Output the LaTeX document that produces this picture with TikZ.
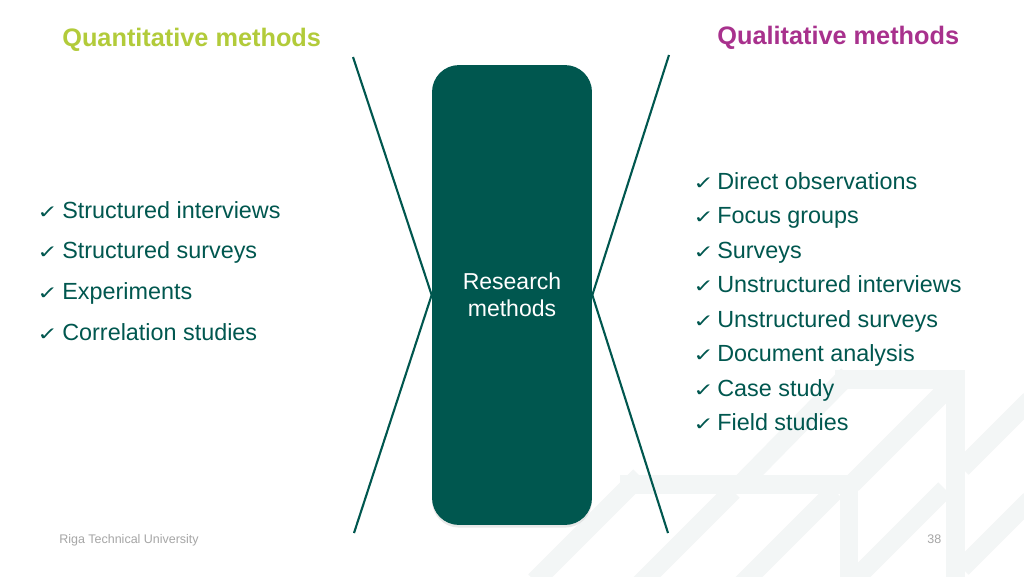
\documentclass[tikz,border=0pt]{standalone}
\usepackage{fontspec}
\setmainfont{Liberation Sans}
\newfontfamily\symfont{DejaVu Sans}
\usetikzlibrary{shadows}
\definecolor{rtuteal}{HTML}{00574F}
\definecolor{qgreen}{HTML}{B2CB3A}
\definecolor{qmag}{HTML}{A8318D}
\definecolor{wm}{HTML}{F3F6F6}
\definecolor{foot}{HTML}{A6A6A6}
\newcommand{\chk}{\scalebox{1}[0.75]{✓}}
\begin{document}
\begin{tikzpicture}[x=0.02cm,y=-0.02cm,
  item/.style={anchor=base west, inner sep=0pt, text=rtuteal, font=\fontsize{13.3}{16}\selectfont},
  tick/.style={anchor=base west, inner sep=0pt, text=rtuteal, font=\symfont\fontsize{14}{16}\selectfont},
  heading/.style={anchor=base west, inner sep=0pt, font=\bfseries\fontsize{14.4}{17}\selectfont},
  band/.style={draw=wm, line width=10.8pt, line cap=butt},
  xline/.style={draw=rtuteal, line width=1.2pt},
  centerbox/.style={fill=rtuteal, rounded corners=0.54cm, minimum width=3.2cm, minimum height=9.2cm, inner sep=0pt,
    text=white, align=center, font=\fontsize{13.1}{15.3}\selectfont,
    drop shadow={shadow xshift=0pt, shadow yshift=-1.5pt, opacity=0.18}},
  footer/.style={anchor=base west, inner sep=0pt, text=foot, font=\fontsize{7.1}{8}\selectfont}]
\useasboundingbox (0,0) rectangle (1024,576);
\fill[white] (0,0) rectangle (1024,576);
% watermark
\begin{scope}
\clip (0,0) rectangle (1024,576);
\draw[band] (835,379) -- (965,379);
\draw[band] (955,370) -- (955,580);
\draw[band] (620,484) -- (858,484);
\draw[band] (849,475) -- (849,580);
\draw[band] (848,375) -- (741,484);
\draw[band] (950,386) -- (852,484);
\draw[band] (640,476) -- (535,581);
\draw[band] (733,491) -- (640,584);
\draw[band] (835,491) -- (742,584);
\draw[band] (945,489) -- (855,579);
\draw[band] (1030,400) -- (962,468);
\draw[band] (1030,500) -- (962,568);
\end{scope}
% central box
\node[centerbox] (box) at (512,295) {Research\\methods};
% crossing lines
\coordinate (lt) at (353,57);
\coordinate (lb) at (354,533);
\coordinate (rt) at (669,55);
\coordinate (rb) at (668,533);
\draw[xline] (lt) -- (box.west) -- (lb);
\draw[xline] (rt) -- (box.east) -- (rb);
% headings
\node[heading, text=qgreen] (quant) at (62,46) {Quantitative methods};
\node[heading, text=qmag] (qual) at (717,44) {Qualitative methods};
% left list
\foreach \t [count=\i] in {Structured interviews, Structured surveys, Experiments, Correlation studies}{
  \pgfmathsetmacro{\yy}{218+40.9*(\i-1)}
  \node[tick] (lc\i) at (37,\yy) {\chk};
  \node[item] (li\i) at (62,\yy) {\t};
}
% right list
\foreach \t [count=\i] in {Direct observations, Focus groups, Surveys, Unstructured interviews, Unstructured surveys, Document analysis, Case study, Field studies}{
  \pgfmathsetmacro{\yy}{189.3+34.45*(\i-1)}
  \node[tick] (rc\i) at (693,\yy) {\chk};
  \node[item] (ri\i) at (717,\yy) {\t};
}
% footer
\node[footer] (uni) at (59,543) {Riga Technical University};
\node[footer] (page) at (927,543) {38};
\end{tikzpicture}
\end{document}
